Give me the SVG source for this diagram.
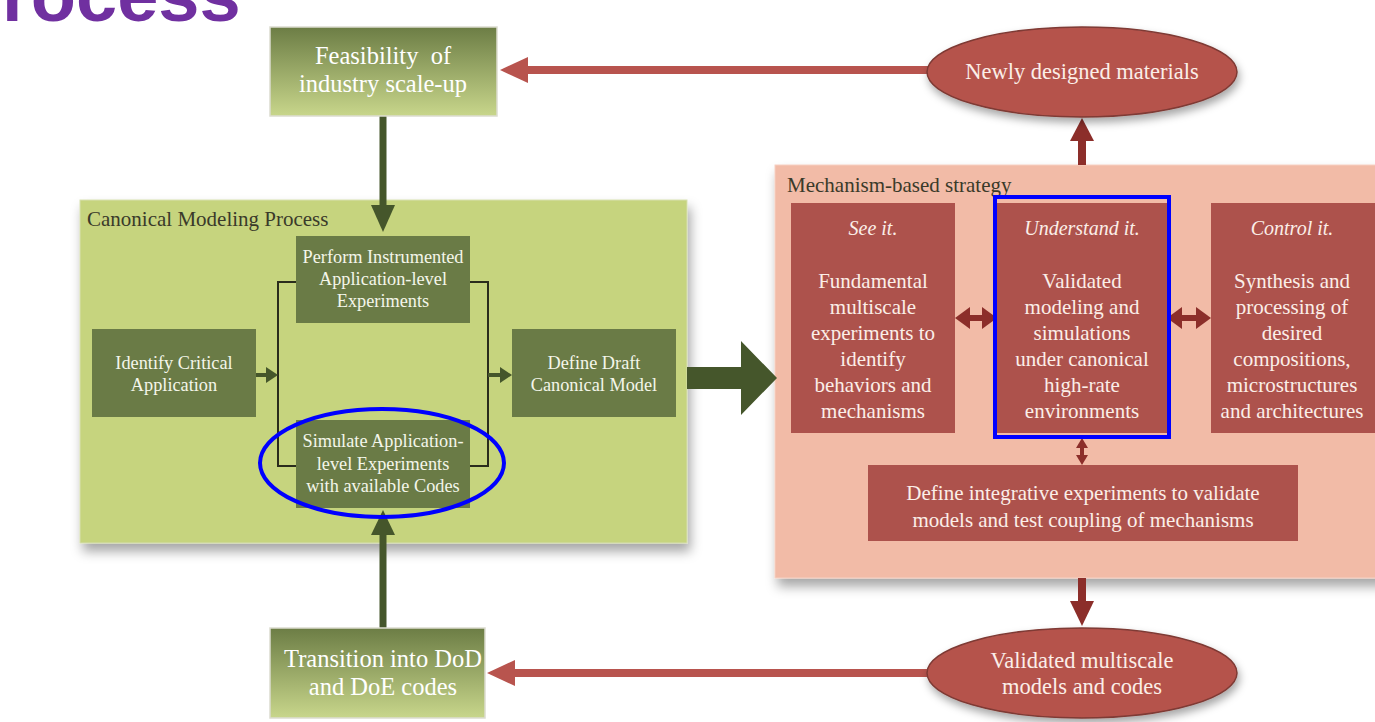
<svg xmlns="http://www.w3.org/2000/svg" width="1375" height="722" viewBox="0 0 1375 722">
<defs>
  <linearGradient id="gbox" x1="0" y1="0" x2="0" y2="1">
    <stop offset="0" stop-color="#6c7d45"/>
    <stop offset="1" stop-color="#c8d68b"/>
  </linearGradient>
  <filter id="shadow" x="-10%" y="-10%" width="125%" height="130%">
    <feDropShadow dx="3" dy="8" stdDeviation="6" flood-color="#000" flood-opacity="0.35"/>
  </filter>
  <filter id="shadowE" x="-10%" y="-20%" width="125%" height="150%">
    <feDropShadow dx="2" dy="5" stdDeviation="4" flood-color="#000" flood-opacity="0.35"/>
  </filter>
</defs>
<style>
  text { font-family: "Liberation Serif", "DejaVu Serif", serif; text-anchor: middle; }
  .title { font-family: "Liberation Sans", Arial, sans-serif; font-weight: bold; font-size: 74px; fill: #7030a0; text-anchor: start; }
  .gbox { fill: url(#gbox); stroke: #dcdcd0; stroke-width: 1.5; }
  .gt { fill: #ffffff; font-size: 24.5px; }
  .panelG { fill: #c6d47e; stroke: #d7dfb0; stroke-width: 1; }
  .panelR { fill: #f2bba7; stroke: #f6d0c2; stroke-width: 1; }
  .plabel { fill: #3a3a2a; font-size: 21px; text-anchor: start; }
  .dg { fill: #6a7b46; }
  .dgt { fill: #f4f6ea; font-size: 18.3px; }
  .rb { fill: #ad524c; }
  .rbt { fill: #fbeee8; font-size: 21px; }
  .rbi { fill: #fbeee8; font-size: 20px; font-style: italic; }
  .ell { fill: #b5534c; stroke: #7e3a34; stroke-width: 1.5; }
  .et { fill: #fbeee8; font-size: 22.5px; }
  .brk { fill: none; stroke: #2a2c1c; stroke-width: 2; }
  .garr { fill: #45562b; }
  .rarr { fill: #b8544e; }
  .darr { fill: #8c2e2a; }
  .hl { fill: none; stroke: #0000ff; stroke-width: 4; }
</style>

<text class="title" x="2" y="21">rocess</text>

<!-- panels -->
<g id="canonical-panel">
  <rect class="panelG" x="80" y="200" width="607" height="343" filter="url(#shadow)"/>
  <text class="plabel" x="87" y="226">Canonical Modeling Process</text>
</g>
<g id="mechanism-panel">
  <rect class="panelR" x="775" y="165" width="610" height="413" filter="url(#shadow)"/>
  <text class="plabel" x="787" y="192" font-size="23">Mechanism-based strategy</text>
</g>

<!-- connectors -->
<g id="connectors">
  <!-- Feasibility -> Perform -->
  <rect class="garr" x="379.5" y="116" width="7" height="90"/>
  <polygon class="garr" points="371,205 395,205 383,232"/>
  <!-- Transition -> Simulate -->
  <rect class="garr" x="379.5" y="533" width="7" height="95"/>
  <polygon class="garr" points="371,535 395,535 383,510"/>
  <!-- brackets -->
  <polyline class="brk" points="296,282 278,282 278,466 296,466"/>
  <polyline class="brk" points="470,282 488,282 488,466 470,466"/>
  <!-- Identify -> bracket -->
  <rect class="garr" x="256" y="373" width="12" height="4"/>
  <polygon class="garr" points="266,367 278,375 266,383"/>
  <!-- bracket -> Define Draft -->
  <rect class="garr" x="488" y="373" width="14" height="4"/>
  <polygon class="garr" points="500,367 512,375 500,383"/>
  <!-- big arrow canonical -> mechanism -->
  <polygon class="garr" points="687,367 741,367 741,341 777,378 741,415 741,389 687,389"/>
  <!-- ellipse -> Feasibility -->
  <rect class="rarr" x="525" y="66" width="405" height="8"/>
  <polygon class="rarr" points="528,57 528,83 500,70"/>
  <!-- ellipse bottom -> Transition -->
  <rect class="rarr" x="512" y="669" width="418" height="8"/>
  <polygon class="rarr" points="515,660 515,686 487,673"/>
  <!-- mechanism -> newly designed -->
  <rect class="darr" x="1078" y="138" width="8" height="27"/>
  <polygon class="darr" points="1070,141 1094,141 1082,118"/>
  <!-- mechanism -> validated -->
  <rect class="darr" x="1078" y="578" width="8" height="26"/>
  <polygon class="darr" points="1070,601 1094,601 1082,626"/>
  <!-- double arrows -->
  <rect class="darr" x="966" y="315" width="20" height="6"/>
  <polygon class="darr" points="970,307 970,329 955,318"/>
  <polygon class="darr" points="982,307 982,329 997,318"/>
  <rect class="darr" x="1178" y="315" width="22" height="6"/>
  <polygon class="darr" points="1182,307 1182,329 1167,318"/>
  <polygon class="darr" points="1196,307 1196,329 1211,318"/>
  <rect class="darr" x="1080" y="444" width="4" height="14"/>
  <polygon class="darr" points="1076,448 1088,448 1082,438"/>
  <polygon class="darr" points="1076,455 1088,455 1082,465"/>
</g>

<!-- nodes -->
<g id="feasibility">
  <rect class="gbox" x="270" y="27" width="227" height="89"/>
  <text class="gt" x="383" y="64" xml:space="preserve">Feasibility  of</text>
  <text class="gt" x="383" y="92">industry scale-up</text>
</g>
<g id="transition">
  <rect class="gbox" x="270" y="628" width="215" height="90"/>
  <text class="gt" x="383" y="667">Transition into DoD</text>
  <text class="gt" x="383" y="695">and DoE codes</text>
</g>
<g id="perform">
  <rect class="dg" x="296" y="236" width="174" height="87"/>
  <text class="dgt" x="383" y="263">Perform Instrumented</text>
  <text class="dgt" x="383" y="285">Application-level</text>
  <text class="dgt" x="383" y="307">Experiments</text>
</g>
<g id="identify">
  <rect class="dg" x="92" y="329" width="164" height="88"/>
  <text class="dgt" x="174" y="369">Identify Critical</text>
  <text class="dgt" x="174" y="391">Application</text>
</g>
<g id="define-draft">
  <rect class="dg" x="512" y="329" width="164" height="88"/>
  <text class="dgt" x="594" y="369">Define Draft</text>
  <text class="dgt" x="594" y="391">Canonical Model</text>
</g>
<g id="simulate">
  <rect class="dg" x="296" y="420" width="174" height="88"/>
  <text class="dgt" x="383" y="447">Simulate Application-</text>
  <text class="dgt" x="383" y="470">level Experiments</text>
  <text class="dgt" x="383" y="492">with available Codes</text>
  <ellipse class="hl" cx="382" cy="463" rx="122" ry="54"/>
</g>
<g id="see-it">
  <rect class="rb" x="791" y="203" width="164" height="230"/>
  <text class="rbi" x="873" y="235">See it.</text>
  <text class="rbt" x="873" y="288">Fundamental</text>
  <text class="rbt" x="873" y="314">multiscale</text>
  <text class="rbt" x="873" y="340">experiments to</text>
  <text class="rbt" x="873" y="366">identify</text>
  <text class="rbt" x="873" y="392">behaviors and</text>
  <text class="rbt" x="873" y="418">mechanisms</text>
</g>
<g id="understand-it">
  <rect class="rb" x="997" y="203" width="170" height="230"/>
  <text class="rbi" x="1082" y="235">Understand it.</text>
  <text class="rbt" x="1082" y="288">Validated</text>
  <text class="rbt" x="1082" y="314">modeling and</text>
  <text class="rbt" x="1082" y="340">simulations</text>
  <text class="rbt" x="1082" y="366">under canonical</text>
  <text class="rbt" x="1082" y="392">high-rate</text>
  <text class="rbt" x="1082" y="418">environments</text>
  <rect class="hl" x="995" y="197" width="174" height="240"/>
</g>
<g id="control-it">
  <rect class="rb" x="1211" y="203" width="170" height="230"/>
  <text class="rbi" x="1292" y="235">Control it.</text>
  <text class="rbt" x="1292" y="288">Synthesis and</text>
  <text class="rbt" x="1292" y="314">processing of</text>
  <text class="rbt" x="1292" y="340">desired</text>
  <text class="rbt" x="1292" y="366">compositions,</text>
  <text class="rbt" x="1292" y="392">microstructures</text>
  <text class="rbt" x="1292" y="418">and architectures</text>
</g>
<g id="define-integrative">
  <rect class="rb" x="868" y="465" width="430" height="76"/>
  <text class="rbt" x="1083" y="500">Define integrative experiments to validate</text>
  <text class="rbt" x="1083" y="527">models and test coupling of mechanisms</text>
</g>
<g id="newly-designed">
  <ellipse class="ell" cx="1082" cy="72" rx="155" ry="45" filter="url(#shadowE)"/>
  <text class="et" x="1082" y="79">Newly designed materials</text>
</g>
<g id="validated-models">
  <ellipse class="ell" cx="1082" cy="673" rx="155" ry="45" filter="url(#shadowE)"/>
  <text class="et" x="1082" y="668">Validated multiscale</text>
  <text class="et" x="1082" y="694">models and codes</text>
</g>
</svg>
